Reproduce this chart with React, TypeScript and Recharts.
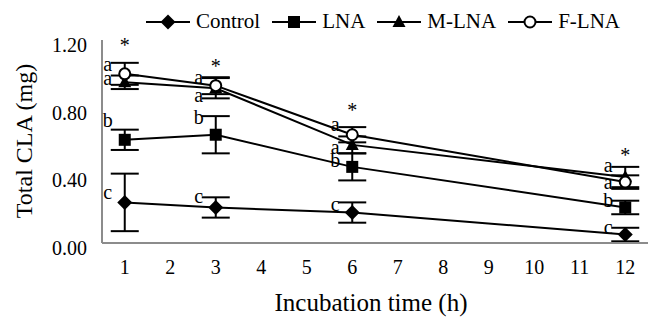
import React from 'react';
import { LineChart, Line, XAxis, YAxis, ErrorBar, LabelList, Label } from 'recharts';

const hours = [1, 3, 6, 12];
const hourTicks = [1, 2, 3, 4, 5, 6, 7, 8, 9, 10, 11, 12];
const yTicks = [0, 0.4, 0.8, 1.2];

const control = [0.24, 0.21, 0.18, 0.05];
const controlErr = [0.17, 0.06, 0.06, 0.04];
const lna = [0.61, 0.64, 0.45, 0.21];
const lnaErr = [0.06, 0.11, 0.08, 0.04];
const mlna = [0.95, 0.915, 0.58, 0.39];
const mlnaErr = [0.04, 0.06, 0.05, 0.06];
const flna = [1.0, 0.93, 0.64, 0.36];
const flnaErr = [0.065, 0.05, 0.045, 0.04];

// significance letters and asterisk level
const controlLetters = ['c', 'c', 'c', 'c'];
const lnaLetters = ['b', 'b', 'b', 'b'];
const mlnaLetters = ['a', 'a', 'a', 'a'];
const flnaLetters = ['a', 'a', 'a', 'a'];
const starLevel = [1.18, 1.06, 0.8, 0.53];

const rows = hours.map((h, i) => ({
  hour: h,
  control: control[i],
  controlErr: controlErr[i],
  lna: lna[i],
  lnaErr: lnaErr[i],
  mlna: mlna[i],
  mlnaErr: mlnaErr[i],
  flna: flna[i],
  flnaErr: flnaErr[i],
  star: starLevel[i],
}));

const FONT = "'Liberation Serif', 'Times New Roman', Times, 'DejaVu Serif', serif";

const Diamond = ({ cx, cy }: any) => (
  <polygon points={`${cx},${cy - 7.5} ${cx + 7.5},${cy} ${cx},${cy + 7.5} ${cx - 7.5},${cy}`} fill="#000" />
);
const Square = ({ cx, cy }: any) => <rect x={cx - 6} y={cy - 6} width={12} height={12} fill="#000" />;
const Triangle = ({ cx, cy }: any) => (
  <polygon points={`${cx},${cy - 7} ${cx + 6.5},${cy + 5} ${cx - 6.5},${cy + 5}`} fill="#000" />
);
const Circle = ({ cx, cy }: any) => <circle cx={cx} cy={cy} r={5.5} fill="#fff" stroke="#000" strokeWidth={2} />;

const markers: Record<string, any> = { Control: Diamond, LNA: Square, 'M-LNA': Triangle, 'F-LNA': Circle };

function letterLabel(letters: string[], dys: number[]) {
  return (props: any) => {
    const { x, y, index } = props;
    return (
      <text key={`l${index}`} x={x - 17} y={y + dys[index]} textAnchor="middle" dominantBaseline="central"
        style={{ fontFamily: FONT }} fontSize={20} fill="#000">
        {letters[index]}
      </text>
    );
  };
}

const starLabel = (props: any) => {
  const { x, y, index } = props;
  return (
    <text key={`s${index}`} x={x} y={y + 9} textAnchor="middle" style={{ fontFamily: FONT }} fontSize={20} fill="#000">
      *
    </text>
  );
};

function Legend() {
  const items = ['Control', 'LNA', 'M-LNA', 'F-LNA'];
  return (
    <div style={{ position: 'absolute', left: 146, top: 9, display: 'flex', alignItems: 'center', fontFamily: FONT, fontSize: 21 }}>
      {items.map((name, i) => {
        const M = markers[name];
        return (
          <div key={name} style={{ display: 'flex', alignItems: 'center', marginRight: i < 3 ? 12 : 0 }}>
            <svg width={44} height={20}>
              <line x1={0} y1={10} x2={44} y2={10} stroke="#000" strokeWidth={2} />
              <M cx={22} cy={10} />
            </svg>
            <span style={{ marginLeft: 6 }}>{name}</span>
          </div>
        );
      })}
    </div>
  );
}

const series = [
  { key: 'control', err: 'controlErr', name: 'Control', letters: controlLetters, dys: [-10, -11, -9, -8] },
  { key: 'lna', err: 'lnaErr', name: 'LNA', letters: lnaLetters, dys: [-20, -18, -7, -7] },
  { key: 'mlna', err: 'mlnaErr', name: 'M-LNA', letters: mlnaLetters, dys: [-4, 7, 2, -12] },
  { key: 'flna', err: 'flnaErr', name: 'F-LNA', letters: flnaLetters, dys: [-10, -9, -11, 0] },
];

export default function App() {
  return (
    <div style={{ position: 'relative', width: 648, height: 325, overflow: 'hidden', background: '#fff' }}>
      <style>{'body{margin:0}'}</style>
      <LineChart width={648} height={325} data={rows} margin={{ top: 40, right: 0, left: 0, bottom: 0 }}>
        <XAxis
          type="number"
          dataKey="hour"
          domain={[0.5, 12.5]}
          ticks={hourTicks}
          interval={0}
          height={82}
          axisLine={{ stroke: '#8c8c8c', strokeWidth: 2 }}
          tickLine={false}
          tickSize={0}
          tick={(p: any) => (
            <text x={p.x} y={p.y + 22} textAnchor="middle" dominantBaseline="central" style={{ fontFamily: FONT }} fontSize={20} fill="#000">
              {p.payload.value}
            </text>
          )}
        >
          <Label
            content={() => (
              <text x={371} y={302} textAnchor="middle" dominantBaseline="central" style={{ fontFamily: FONT }} fontSize={25} fill="#000">
                Incubation time (h)
              </text>
            )}
          />
        </XAxis>
        <YAxis
          domain={[0, 1.2]}
          ticks={yTicks}
          width={102}
          axisLine={{ stroke: '#8c8c8c', strokeWidth: 2 }}
          tickLine={false}
          tickSize={0}
          tick={(p: any) => (
            <text x={p.x - 13} y={p.y + 5} textAnchor="end" dominantBaseline="central" style={{ fontFamily: FONT }} fontSize={20} fill="#000">
              {Number(p.payload.value).toFixed(2)}
            </text>
          )}
        >
          <Label
            content={() => (
              <text x={24} y={141} textAnchor="middle" dominantBaseline="central" transform="rotate(-90 24 141)"
                style={{ fontFamily: FONT }} fontSize={24} fill="#000">
                Total CLA (mg)
              </text>
            )}
          />
        </YAxis>
        {series.map((s) => {
          const M = markers[s.name];
          return (
            <Line
              key={s.key}
              dataKey={s.key}
              stroke="#000"
              strokeWidth={2}
              isAnimationActive={false}
              activeDot={false}
              dot={(p: any) => <M key={`${s.key}${p.index}`} cx={p.cx} cy={p.cy} />}
            >
              <ErrorBar dataKey={s.err} width={14} strokeWidth={2} stroke="#000" direction="y" />
              <LabelList dataKey={s.key} content={letterLabel(s.letters, s.dys)} />
            </Line>
          );
        })}
        <Line dataKey="star" stroke="none" dot={false} activeDot={false} isAnimationActive={false}>
          <LabelList dataKey="star" content={starLabel} />
        </Line>
      </LineChart>
      <Legend />
    </div>
  );
}
